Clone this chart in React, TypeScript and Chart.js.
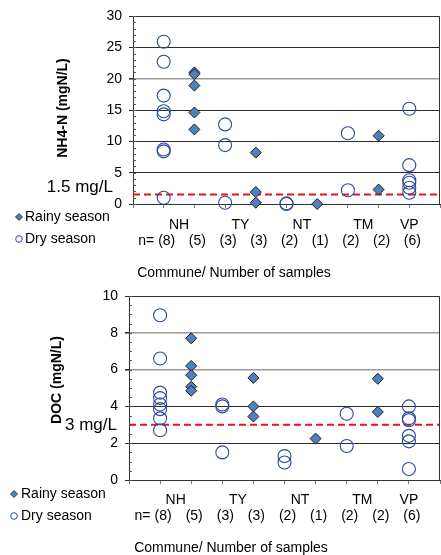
import React, { useEffect, useRef } from 'react';
import { Chart, registerables } from 'chart.js';

Chart.register(...registerables);

// ---------- data ----------
const communes = ['NH', 'TY', 'NT', 'TM', 'VP'];

const nh4Dry = [
  [25.9, 22.7, 17.3, 14.8, 14.3, 8.7, 8.4, 1.0],
  [12.7, 9.4, 0.2],
  [0.1, 0.0],
  [11.3, 2.2],
  [15.2, 6.2, 3.8, 3.4, 2.6, 1.8],
];
const nh4Rainy = [
  [21.0, 20.7, 18.9, 14.6, 11.9],
  [8.2, 1.9, 0.2],
  [0.0],
  [10.9, 2.3],
  [],
];

const docDry = [
  [8.95, 6.6, 4.75, 4.45, 4.1, 3.85, 3.35, 2.7],
  [4.1, 4.0, 1.5],
  [1.3, 0.95],
  [3.6, 1.85],
  [4.0, 3.35, 3.25, 2.4, 2.1, 0.6],
];
const docRainy = [
  [7.7, 6.2, 5.7, 5.07, 4.85],
  [5.55, 4.0, 3.45],
  [2.25],
  [5.5, 3.7],
  [],
];

const nh4Axis = { min: 0, max: 30, step: 5, minor: 1, grayAt: [20] };
const docAxis = { min: 0, max: 10, step: 2, minor: 0.5, grayAt: [6, 8] };

const nh4Limit = 1.5;
const docLimit = 3;
const nh4LimitLabel = '1.5 mg/L';
const docLimitLabel = '3 mg/L';
const nh4Title = 'NH4-N (mgN/L)';
const docTitle = 'DOC (mgN/L)';
const xTitle = 'Commune/ Number of samples';
const countPrefix = 'n=';
const legendLabels = ['Rainy season', 'Dry season'];

// ---------- styles ----------
const FONT = '"Liberation Sans", Arial, Helvetica, sans-serif';
const RAINY_FILL = '#4F81BD';
const RAINY_BORDER = '#1c1c1c';
const DRY_BORDER = '#2A4B9B';
const LIMIT_COLOR = '#E8141C';
const AXIS_COLOR = '#333333';

type Layout = {
  top: number;
  height: number;
  areaTop: number;
  areaBottom: number;
  areaLeft: number;
  areaRight: number;
  catY: number;
  countY: number;
  xTitleX: number;
  xTitleY: number;
  yTitleX: number;
  yTitleY: number;
  limitLabelRight: number;
  limitLabelDy: number;
  legendMarkX: number;
  legendTextX: number;
  legendY: number[];
};

const WIDTH = 441;

const topLayout: Layout = {
  top: 0,
  height: 278,
  areaTop: 16,
  areaBottom: 204,
  areaLeft: 133,
  areaRight: 440,
  catY: 225,
  countY: 241,
  xTitleX: 234,
  xTitleY: 273,
  yTitleX: 63,
  yTitleY: 108,
  limitLabelRight: 113,
  limitLabelDy: -7,
  legendMarkX: 19,
  legendTextX: 25,
  legendY: [217, 239],
};

const bottomLayout: Layout = {
  top: 278,
  height: 277,
  areaTop: 18,
  areaBottom: 202,
  areaLeft: 129,
  areaRight: 440,
  catY: 222,
  countY: 238,
  xTitleX: 231,
  xTitleY: 270,
  yTitleX: 57,
  yTitleY: 102,
  limitLabelRight: 117,
  limitLabelDy: 1,
  legendMarkX: 14,
  legendTextX: 21,
  legendY: [216, 238],
};

type AxisDef = { min: number; max: number; step: number; minor: number; grayAt: number[] };

function buildConfig(
  dry: number[][],
  rainy: number[][],
  axis: AxisDef,
  limit: number,
  limitLabel: string,
  yTitle: string,
  L: Layout
): any {
  const dryPts: { x: number; y: number }[] = [];
  const rainyPts: { x: number; y: number }[] = [];
  const columns: { x: number; n: number }[] = [];
  const catPos: { x: number; label: string }[] = [];
  communes.forEach((c, i) => {
    const dx = 2 * i + 1;
    const rx = 2 * i + 2;
    dry[i].forEach((v) => dryPts.push({ x: dx, y: v }));
    rainy[i].forEach((v) => rainyPts.push({ x: rx, y: v }));
    if (dry[i].length) columns.push({ x: dx, n: dry[i].length });
    if (rainy[i].length) columns.push({ x: rx, n: rainy[i].length });
    catPos.push({ x: rainy[i].length ? dx + 0.5 : dx, label: c });
  });

  const decor = {
    id: 'decor',
    afterDraw(chart: any) {
      const ctx = chart.ctx as CanvasRenderingContext2D;
      const a = chart.chartArea;
      const xs = chart.scales.x;
      const ys = chart.scales.y;
      ctx.save();
      // box
      ctx.strokeStyle = AXIS_COLOR;
      ctx.lineWidth = 1;
      ctx.beginPath();
      ctx.moveTo(a.left, a.top + 0.5);
      ctx.lineTo(a.right - 0.5, a.top + 0.5);
      ctx.lineTo(a.right - 0.5, a.bottom);
      ctx.stroke();
      // minor ticks
      ctx.strokeStyle = '#555';
      ctx.beginPath();
      for (let v = axis.min; v <= axis.max + 1e-9; v += axis.minor) {
        const py = Math.round(ys.getPixelForValue(v)) + 0.5;
        ctx.moveTo(a.left, py);
        ctx.lineTo(a.left + 3, py);
      }
      ctx.stroke();

      ctx.fillStyle = '#000';
      ctx.font = `14px ${FONT}`;
      ctx.textBaseline = 'middle';
      // categories
      ctx.textAlign = 'center';
      catPos.forEach((c) => ctx.fillText(c.label, xs.getPixelForValue(c.x), L.catY));
      // counts
      columns.forEach((col, k) => {
        const t = `(${col.n})`;
        const cx = xs.getPixelForValue(col.x) + 3;
        ctx.textAlign = 'center';
        ctx.fillText(t, cx, L.countY);
        if (k === 0) {
          const w = ctx.measureText(t).width;
          ctx.textAlign = 'right';
          ctx.fillText(countPrefix, cx - w / 2 - 4, L.countY);
        }
      });
      // x title
      ctx.textAlign = 'center';
      ctx.fillText(xTitle, L.xTitleX, L.xTitleY);
      // y title
      ctx.save();
      ctx.translate(L.yTitleX, L.yTitleY);
      ctx.rotate(-Math.PI / 2);
      ctx.font = `bold 14px ${FONT}`;
      ctx.textAlign = 'center';
      ctx.fillText(yTitle, 0, 0);
      ctx.restore();
      // limit label
      ctx.font = `17px ${FONT}`;
      ctx.textAlign = 'right';
      ctx.fillText(limitLabel, L.limitLabelRight, ys.getPixelForValue(limit) + L.limitLabelDy);
      // legend
      ctx.font = `14px ${FONT}`;
      ctx.textAlign = 'left';
      legendLabels.forEach((lab, k) => ctx.fillText(lab, L.legendTextX, L.legendY[k]));
      // diamond
      const dy = L.legendY[0];
      const mx = L.legendMarkX;
      ctx.beginPath();
      ctx.moveTo(mx - 3.5, dy);
      ctx.lineTo(mx, dy - 3.5);
      ctx.lineTo(mx + 3.5, dy);
      ctx.lineTo(mx, dy + 3.5);
      ctx.closePath();
      ctx.fillStyle = RAINY_FILL;
      ctx.fill();
      ctx.strokeStyle = RAINY_BORDER;
      ctx.lineWidth = 0.8;
      ctx.stroke();
      // circle
      ctx.beginPath();
      ctx.arc(mx, L.legendY[1], 3.3, 0, Math.PI * 2);
      ctx.strokeStyle = DRY_BORDER;
      ctx.lineWidth = 1;
      ctx.stroke();
      ctx.restore();
    },
  };

  return {
    type: 'scatter',
    data: {
      datasets: [
        {
          label: legendLabels[0],
          data: rainyPts,
          pointStyle: 'rectRot',
          pointRadius: 5.5,
          backgroundColor: RAINY_FILL,
          borderColor: RAINY_BORDER,
          borderWidth: 1,
          clip: false,
        },
        {
          label: legendLabels[1],
          data: dryPts,
          pointStyle: 'circle',
          pointRadius: 6.5,
          backgroundColor: 'rgba(0,0,0,0)',
          borderColor: DRY_BORDER,
          borderWidth: 1.1,
          clip: false,
        },
        {
          type: 'line',
          label: 'limit',
          data: [
            { x: 0, y: limit },
            { x: 10, y: limit },
          ],
          borderColor: LIMIT_COLOR,
          borderWidth: 2,
          borderDash: [7, 4],
          pointRadius: 0,
          fill: false,
        },
      ],
    },
    options: {
      responsive: false,
      animation: false,
      devicePixelRatio: 1,
      layout: {
        autoPadding: false,
        padding: { top: L.areaTop, left: 0, right: WIDTH - L.areaRight, bottom: 0 },
      },
      plugins: { legend: { display: false }, tooltip: { enabled: false }, title: { display: false } },
      scales: {
        x: {
          type: 'linear',
          min: 0,
          max: 10,
          ticks: { stepSize: 1, display: false },
          grid: { drawOnChartArea: false, drawTicks: true, tickLength: 4, tickColor: '#777' },
          border: { color: AXIS_COLOR, width: 1 },
          afterFit: (s: any) => {
            s.height = L.height - L.areaBottom;
          },
        },
        y: {
          type: 'linear',
          min: axis.min,
          max: axis.max,
          ticks: { stepSize: axis.step, color: '#000', padding: 7, font: { family: FONT, size: 14 } },
          grid: {
            color: (c: any) => (axis.grayAt.includes(c.tick?.value) ? '#999999' : '#2b2b2b'),
            lineWidth: (c: any) => (axis.grayAt.includes(c.tick?.value) ? 1.6 : 1),
            drawTicks: true,
            tickLength: 4,
            tickColor: AXIS_COLOR,
          },
          border: { color: AXIS_COLOR, width: 1 },
          afterFit: (s: any) => {
            s.width = L.areaLeft;
          },
        },
      },
    },
    plugins: [decor],
  };
}

function ChartCanvas(props: { cfg: () => any; layout: Layout }) {
  const ref = useRef<HTMLCanvasElement | null>(null);
  useEffect(() => {
    if (!ref.current) return;
    const chart = new Chart(ref.current, props.cfg());
    return () => chart.destroy();
  }, []);
  return (
    <canvas
      ref={ref}
      width={WIDTH}
      height={props.layout.height}
      style={{
        position: 'absolute',
        left: 0,
        top: props.layout.top,
        width: WIDTH,
        height: props.layout.height,
        display: 'block',
      }}
    />
  );
}

export default function App() {
  return (
    <div style={{ position: 'absolute', left: 0, top: 0, width: WIDTH, height: 555, background: '#fff' }}>
      <ChartCanvas
        layout={topLayout}
        cfg={() => buildConfig(nh4Dry, nh4Rainy, nh4Axis, nh4Limit, nh4LimitLabel, nh4Title, topLayout)}
      />
      <ChartCanvas
        layout={bottomLayout}
        cfg={() => buildConfig(docDry, docRainy, docAxis, docLimit, docLimitLabel, docTitle, bottomLayout)}
      />
    </div>
  );
}
